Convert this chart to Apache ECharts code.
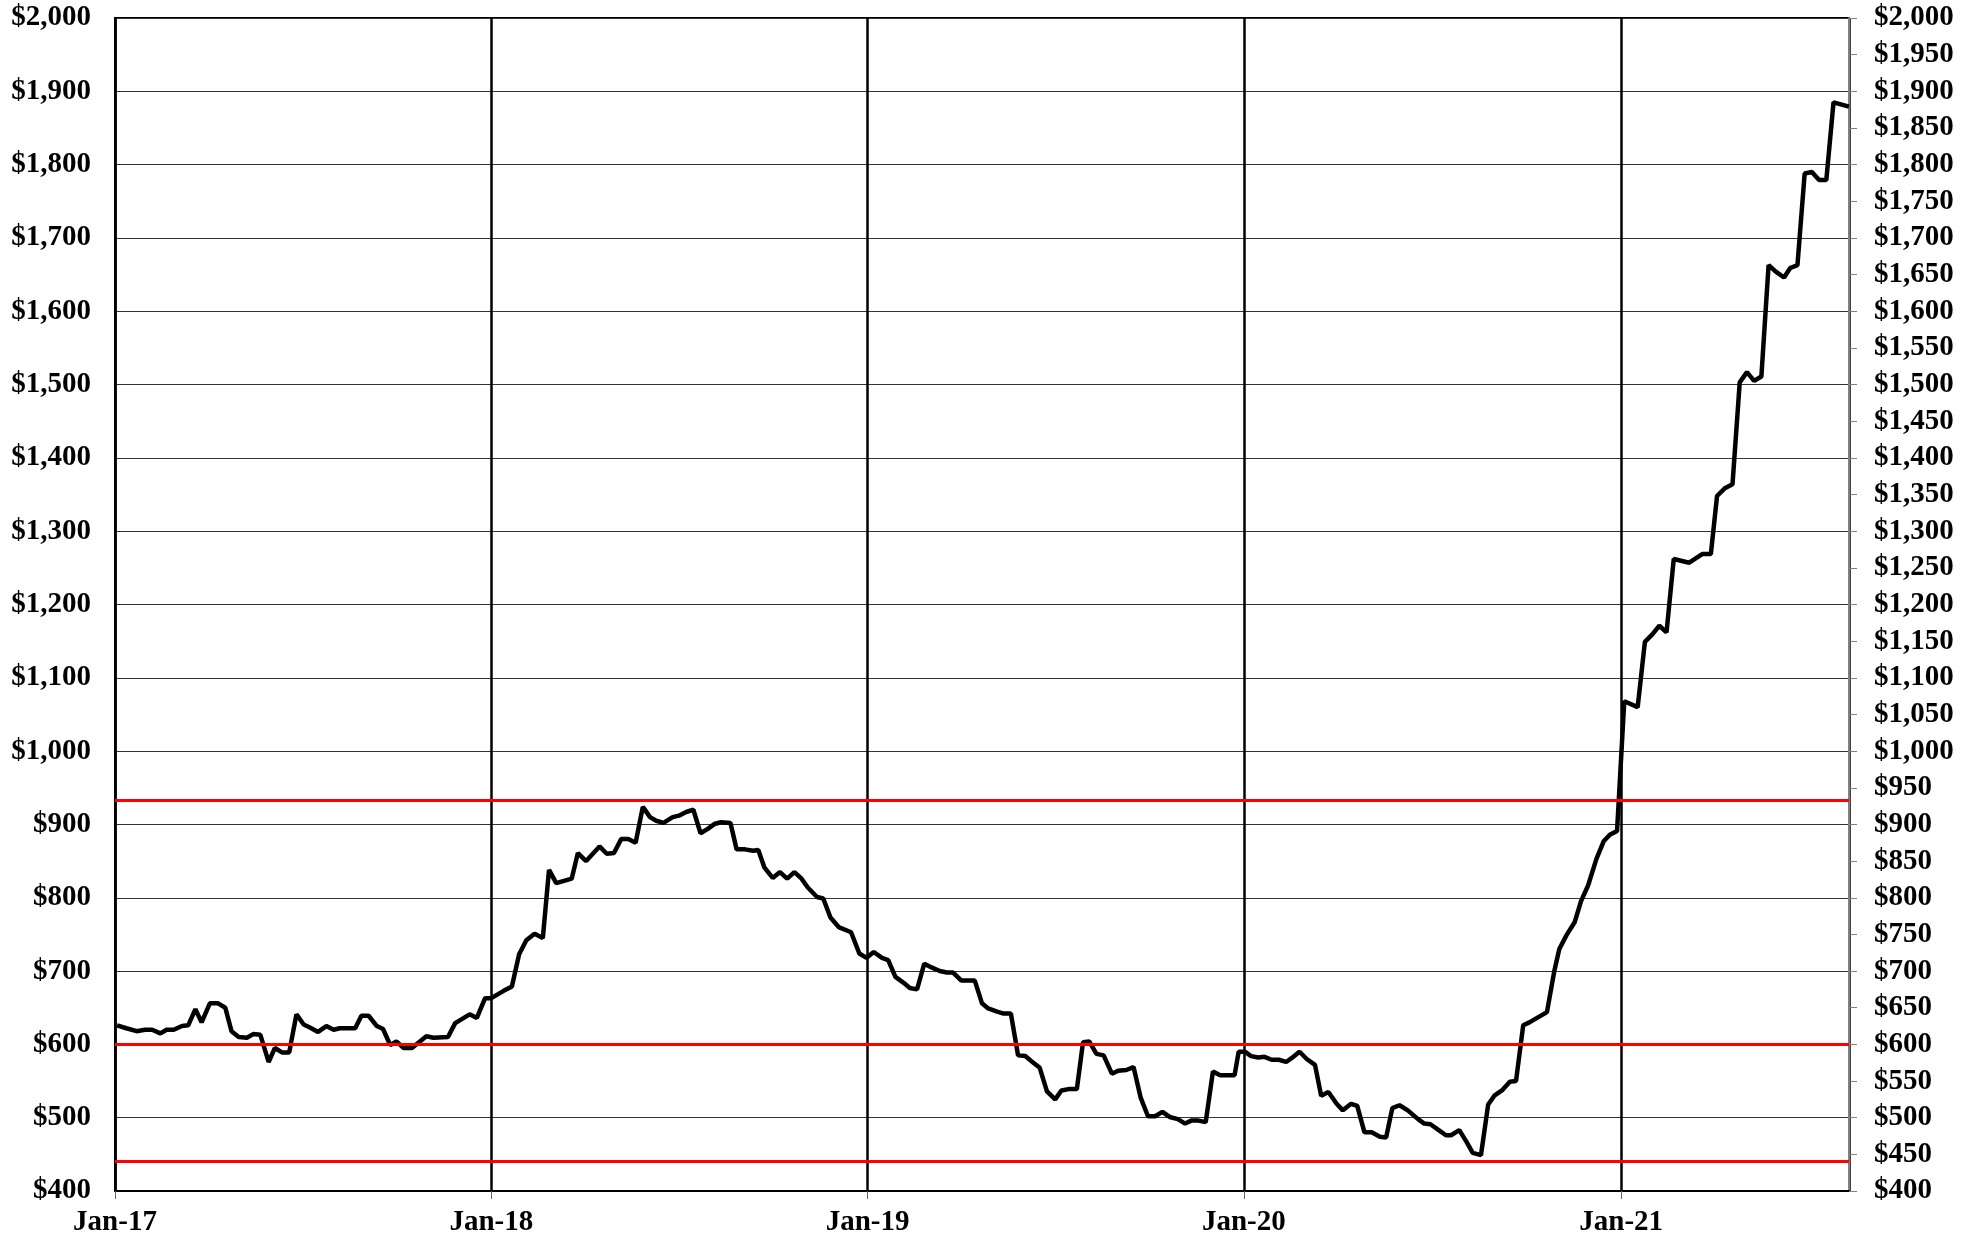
<!DOCTYPE html>
<html>
<head>
<meta charset="utf-8">
<script src="https://cdn.jsdelivr.net/npm/echarts@6/dist/echarts.min.js"></script>
<style>
    html, body { margin: 0; padding: 0; background: #fff; }
    #chart { width: 1979px; height: 1240px; }
</style>
</head>
<body>
<div id="chart"></div>
<script>
// x positions: days since 1 Jan 2017 (weekly prices)
var dayOffsets = [
    2, 11, 21, 29, 36, 44, 50, 57, 65, 71, 78, 84, 92, 100, 107, 113, 120, 128, 134, 141,
    149, 155, 162, 169, 176, 183, 189, 197, 205, 212, 218, 226, 233, 239, 246, 254, 260, 267, 273, 280,
    288, 294, 302, 309, 323, 330, 344, 351, 359, 365, 377, 385,
    392, 399, 407, 415, 421, 428, 443, 449, 457, 470, 477, 484, 491, 498, 505, 512, 519, 525, 532, 541,
    547, 554, 561, 568, 575, 582, 588, 597, 603, 611, 619, 624, 630, 638, 645, 652, 659, 666, 672, 681,
    687, 694,
    702, 714, 722, 729, 736, 744, 750, 757, 765, 771, 778, 785, 792, 800, 807, 813, 821, 834, 841, 847,
    855, 862, 869, 876, 883, 889, 897, 904, 912, 918, 925, 933, 939, 945, 952, 959, 967, 973, 981, 988,
    995, 1002, 1009, 1016, 1023, 1031, 1038, 1044, 1051, 1058,
    1065, 1072, 1086, 1090, 1096, 1102, 1109, 1115, 1122, 1129, 1136, 1143, 1149, 1156, 1164, 1170, 1177, 1185, 1191, 1199,
    1205, 1212, 1219, 1227, 1233, 1239, 1246, 1254, 1264, 1270, 1276, 1284, 1291, 1296, 1304, 1311, 1317, 1325, 1332, 1338,
    1346, 1353, 1359, 1366, 1372, 1389, 1396, 1401, 1408, 1416, 1422,
    1429, 1437, 1444, 1450, 1457, 1464, 1477, 1484, 1491, 1498, 1505, 1512, 1527, 1540, 1548, 1554, 1562, 1569, 1576, 1583,
    1590, 1597, 1604, 1611, 1619, 1625, 1632, 1639, 1646, 1653, 1660, 1667, 1682
];
var prices = [
    626, 622, 618, 620, 620, 615, 620, 620, 625, 626, 648, 630, 656, 656, 650, 618, 610, 609, 614, 613,
    576, 595, 589, 589, 641, 627, 623, 617, 625, 620, 622, 622, 622, 639, 639, 625, 621, 599, 604, 595,
    595, 602, 611, 609, 610, 629, 641, 636, 663, 663, 673, 679,
    723, 742, 751, 745, 838, 820, 826, 861, 850, 870, 860, 861, 880, 880, 875, 924, 910, 905, 902, 910,
    912, 917, 920, 888, 894, 901, 903, 902, 866, 866, 864, 865, 841, 827, 835, 826, 835, 826, 814, 801,
    799, 773,
    760, 753, 724, 718, 726, 718, 715, 692, 684, 677, 675, 710, 705, 700, 698, 698, 687, 687, 656, 649,
    645, 642, 642, 585, 584, 577, 568, 536, 525, 537, 539, 539, 603, 604, 587, 585, 560, 564, 565, 569,
    527, 502, 502, 508, 501, 498, 492, 496, 496, 494,
    563, 558, 558, 590, 590, 584, 582, 583, 579, 579, 576, 583, 590, 580, 572, 530, 535, 519, 510, 519,
    516, 480, 480, 474, 473, 513, 517, 510, 498, 492, 491, 483, 476, 476, 483, 467, 452, 449, 518, 530,
    538, 549, 550, 626, 630, 644, 699, 730, 749, 767, 795,
    817, 853, 877, 886, 891, 1068, 1060, 1149, 1159, 1171, 1162, 1262, 1257, 1269, 1269, 1348, 1359, 1364, 1503, 1517,
    1505, 1511, 1663, 1654, 1646, 1659, 1663, 1788, 1790, 1779, 1779, 1885, 1879
];
// red reference levels
var redLevels = [933, 600, 441];
var lastDay = 1682;
var monthNames = ['Jan', 'Feb', 'Mar', 'Apr', 'May', 'Jun', 'Jul', 'Aug', 'Sep', 'Oct', 'Nov', 'Dec'];

var DAY = 86400000;
var start = new Date(2017, 0, 1).getTime();
var seriesData = [];
for (var i = 0; i < dayOffsets.length; i++) {
    seriesData.push([start + dayOffsets[i] * DAY, prices[i]]);
}
var markData = [];
for (var j = 0; j < redLevels.length; j++) {
    markData.push({ yAxis: redLevels[j] });
}

var labelFont = {
    color: '#000',
    fontFamily: 'Liberation Serif',
    fontWeight: 'bold',
    fontSize: 29
};

function money(v) {
    return '$' + v.toLocaleString('en-US');
}

var myChart = echarts.init(document.getElementById('chart'));
var option = {
    animation: false,
    backgroundColor: '#fff',
    grid: {
        left: 115, right: 130, top: 18, bottom: 49,
        show: true,
        borderColor: '#000',
        borderWidth: 2
    },
    xAxis: {
        type: 'time',
        min: start,
        max: start + lastDay * DAY,
        minInterval: 365 * DAY,
        maxInterval: 366 * DAY,
        axisLine: { show: true, lineStyle: { color: '#000', width: 2 } },
        axisTick: { show: true, length: 8, lineStyle: { color: '#666', width: 1 } },
        splitLine: { show: true, lineStyle: { color: '#000', width: 2.5 } },
        axisLabel: Object.assign({
            margin: 17,
            showMaxLabel: false,
            formatter: function (value) {
                var d = new Date(value);
                return monthNames[d.getMonth()] + '-' + String(d.getFullYear()).slice(2);
            }
        }, labelFont)
    },
    yAxis: [
        {
            type: 'value',
            position: 'left',
            min: 400, max: 2000, interval: 100,
            axisLine: { show: true, lineStyle: { color: '#000', width: 2 } },
            axisTick: { show: false },
            splitLine: { show: true, lineStyle: { color: '#333', width: 1.2 } },
            axisLabel: Object.assign({ margin: 24, formatter: money }, labelFont)
        },
        {
            type: 'value',
            position: 'right',
            min: 400, max: 2000, interval: 50,
            axisLine: { show: true, lineStyle: { color: '#808080', width: 2 } },
            axisTick: { show: true, length: 8, lineStyle: { color: '#808080', width: 1 } },
            splitLine: { show: false },
            axisLabel: Object.assign({ margin: 25, formatter: money }, labelFont)
        }
    ],
    series: [
        {
            type: 'line',
            data: seriesData,
            showSymbol: false,
            lineStyle: { color: '#000', width: 4.5 },
            itemStyle: { color: '#000' },
            markLine: {
                silent: true,
                symbol: ['none', 'none'],
                label: { show: false },
                lineStyle: { color: '#ff0000', width: 3, type: 'solid' },
                data: markData
            }
        }
    ]
};
myChart.setOption(option);
</script>
</body>
</html>
